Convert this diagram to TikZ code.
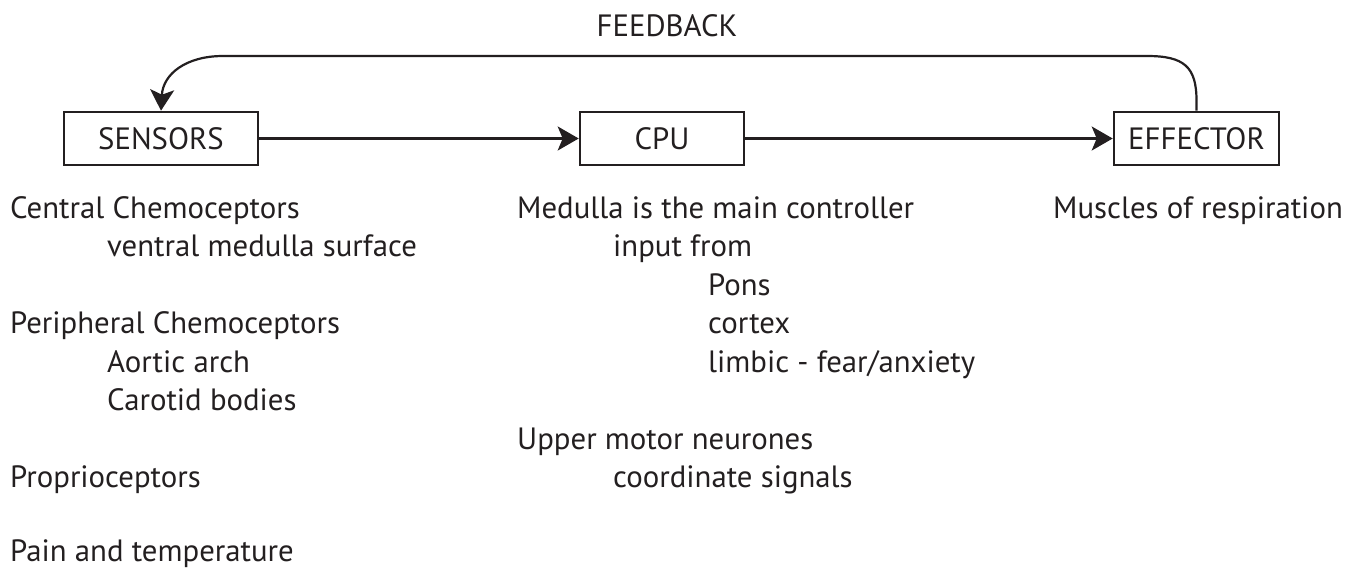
\documentclass[tikz,border=0pt]{standalone}
\usepackage{fontspec}
\setmainfont{PT Sans}
\usetikzlibrary{arrows.meta}
\definecolor{ink}{RGB}{35,31,32}
\tikzset{
  txt/.style={text=ink, font=\fontsize{30.8}{37}\selectfont},
  blk/.style={txt, draw=ink, line width=2.6pt, inner sep=0pt,
              minimum height=53pt},
  lbl/.style={txt, anchor=base west, inner sep=0pt},
  flow/.style={draw=ink, line width=2.2pt,
               -{Stealth[length=21pt, width=24pt, inset=5pt]}}
}
\begin{document}
\begin{tikzpicture}[x=1pt, y=-1pt]
  \useasboundingbox (0,0) rectangle (1354,570);

  % blocks of the control loop
  \node[blk, minimum width=194pt] (sensors)  at (161,138.5)   {SENSORS};
  \node[blk, minimum width=164pt] (cpu)      at (662,138.5)   {CPU};
  \node[blk, minimum width=165pt] (effector) at (1196.5,138.5) {EFFECTOR};

  % forward path
  \draw[flow] (sensors.east) -- (cpu.west);
  \draw[flow] (cpu.east) -- (effector.west);

  % feedback path over the top
  \coordinate (fbR) at (1147,56);
  \coordinate (fbL) at (223,56);
  \draw[flow] (effector.north) -- ++(0,-10)
              .. controls +(0,-34) and (1184,56) .. (fbR)
              -- (fbL) .. controls (186,56) and (163,74) .. (sensors.north);
  \node[txt, anchor=base, inner sep=0pt] (fb) at (667,36) {FEEDBACK};

  % sensors
  \node[lbl] (s1) at (10,218)    {Central Chemoceptors};
  \node[lbl] (s2) at (107,256.5) {ventral medulla surface};
  \node[lbl] (s3) at (10,333.5)  {Peripheral Chemoceptors};
  \node[lbl] (s4) at (107,372)   {Aortic arch};
  \node[lbl] (s5) at (107,410.5) {Carotid bodies};
  \node[lbl] (s6) at (10,487.5)  {Proprioceptors};
  \node[lbl] (s7) at (10,561.5)  {Pain and temperature};

  % controller
  \node[lbl] (c1) at (517,218)   {Medulla is the main controller};
  \node[lbl] (c2) at (613,256.5) {input from};
  \node[lbl] (c3) at (708,295)   {Pons};
  \node[lbl] (c4) at (708,333.5) {cortex};
  \node[lbl] (c5) at (708,372)   {limbic - fear/anxiety};
  \node[lbl] (c6) at (517,449)   {Upper motor neurones};
  \node[lbl] (c7) at (613,487.5) {coordinate signals};

  % effector
  \node[lbl] (e1) at (1053,218) {Muscles of respiration};
\end{tikzpicture}
\end{document}
